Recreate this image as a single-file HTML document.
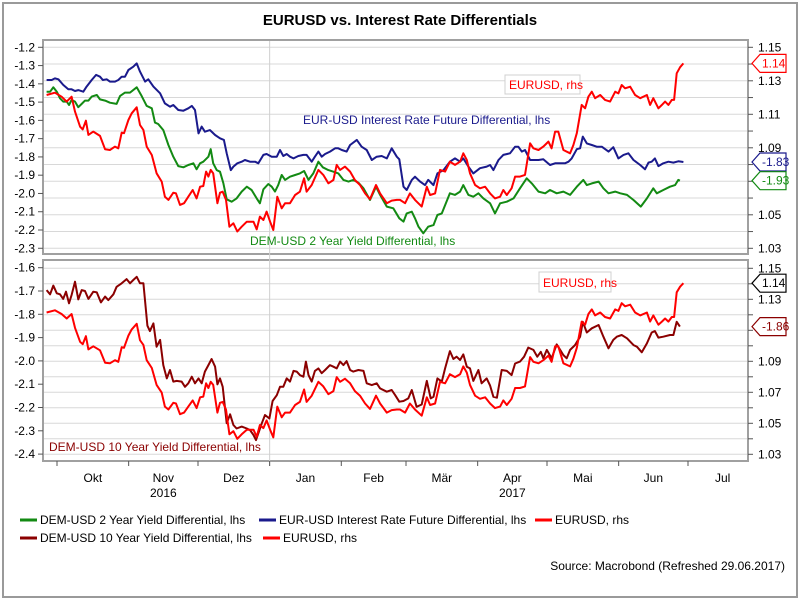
<!DOCTYPE html>
<html><head><meta charset="utf-8"><style>
body{margin:0;background:#fff;}
svg{display:block;font-family:"Liberation Sans",sans-serif;}
</style></head><body>
<svg id="chart" width="800" height="600" viewBox="0 0 800 600" xmlns="http://www.w3.org/2000/svg">
<rect x="0" y="0" width="800" height="600" fill="#fff"/>
<rect x="3" y="3" width="794" height="594" fill="none" stroke="#9a9a9a" stroke-width="2"/>
<text x="400" y="25" text-anchor="middle" font-size="15" font-weight="bold" fill="#000">EURUSD vs. Interest Rate Differentials</text>
<defs>
<clipPath id="clipTop"><rect x="43" y="40" width="705" height="214"/></clipPath>
<clipPath id="clipBot"><rect x="43" y="260" width="705" height="201"/></clipPath>
</defs>
<g id="grid"></g>
<g id="series"></g>
<g id="axes"></g>
<g id="annot">
<text x="303" y="124" font-size="12" fill="#1a1a8c">EUR-USD Interest Rate Future Differential, lhs</text>
<text x="250" y="245" font-size="12" fill="#138a13">DEM-USD 2 Year Yield Differential, lhs</text>
<rect x="505" y="75" width="75" height="19" fill="#fff" stroke="#d0d0d0"/>
<text x="509" y="89" font-size="12" fill="#f00">EURUSD, rhs</text>
<rect x="539" y="272" width="72" height="20" fill="#fff" stroke="#d0d0d0"/>
<text x="543" y="287" font-size="12" fill="#f00">EURUSD, rhs</text>
<text x="49" y="451" font-size="12" fill="#8b0000">DEM-USD 10 Year Yield Differential, lhs</text>
</g>
<g id="legend">
<line x1="20" y1="520" x2="37" y2="520" stroke="#138a13" stroke-width="3"/>
<text x="40" y="524" font-size="12">DEM-USD 2 Year Yield Differential, lhs</text>
<line x1="259" y1="520" x2="276" y2="520" stroke="#1a1a8c" stroke-width="3"/>
<text x="279" y="524" font-size="12">EUR-USD Interest Rate Future Differential, lhs</text>
<line x1="535" y1="520" x2="552" y2="520" stroke="#f00" stroke-width="3"/>
<text x="555" y="524" font-size="12">EURUSD, rhs</text>
<line x1="20" y1="538" x2="37" y2="538" stroke="#8b0000" stroke-width="3"/>
<text x="40" y="542" font-size="12">DEM-USD 10 Year Yield Differential, lhs</text>
<line x1="263" y1="538" x2="280" y2="538" stroke="#f00" stroke-width="3"/>
<text x="283" y="542" font-size="12">EURUSD, rhs</text>
</g>
<text x="785" y="570" text-anchor="end" font-size="12">Source: Macrobond (Refreshed 29.06.2017)</text>
</svg>
<script>
// days since 1 Oct 2016
const eurDays=[-4.5,-0.9,2.0,4.2,6.3,7.8,10.0,11.1,12.5,13.6,15.7,18.6,20.8,22.9,25.1,26.5,28.0,29.0,30.9,32.3,34.5,35.9,37.4,38.8,41.0,43.1,45.3,46.7,48.2,50.3,51.5,53.2,55.0,56.8,58.7,60.4,61.9,63.3,64.5,65.5,66.5,67.6,69.4,70.5,71.7,73.1,74.6,76.3,78.0,79.9,82.1,85.0,86.4,87.8,89.3,90.7,92.2,93.6,95.3,97.2,98.7,100.8,103.0,105.1,106.9,108.0,110.2,113.1,115.2,117.4,119.6,121.0,122.5,124.6,126.8,128.9,131.1,133.3,135.4,138.0,139.8,142.7,144.8,147.0,148.4,150.6,152.7,154.9,157.8,160.0,161.4,163.6,165.7,167.9,170.0,172.2,174.4,175.8,177.3,178.7,180.9,183.0,185.2,187.4,189.5,191.7,193.1,194.6,196.7,198.2,200.3,202.5,204.7,206.1,208.3,210.4,212.6,214.0,215.5,216.9,219.1,222.0,223.4,224.9,227.0,228.5,229.9,231.4,232.8,235.0,237.1,239.3,241.5,242.9,244.3,245.8,248.0,250.1,252.3,255.2,256.6,258.0,260.2,261.7,263.1,264.5,266.0,267.0,268.1,269.6,271.0];
const eurVals=[1.1215,1.1229,1.1205,1.1176,1.1205,1.1116,1.1026,1.1010,1.1062,1.0977,1.0997,1.0971,1.0891,1.0887,1.0907,1.0897,1.0991,1.0987,1.1066,1.1106,1.1142,1.1036,1.1006,1.0907,1.0857,1.0748,1.0698,1.0608,1.0589,1.0632,1.0628,1.0559,1.0569,1.0608,1.0648,1.0598,1.0668,1.0672,1.0758,1.0728,1.0768,1.0748,1.0569,1.0632,1.0638,1.0589,1.0429,1.0449,1.0400,1.0429,1.0459,1.0459,1.0413,1.0489,1.0469,1.0519,1.0459,1.0409,1.0608,1.0539,1.0569,1.0569,1.0618,1.0638,1.0718,1.0638,1.0678,1.0768,1.0738,1.0688,1.0708,1.0798,1.0768,1.0788,1.0758,1.0708,1.0678,1.0628,1.0593,1.0678,1.0628,1.0569,1.0585,1.0589,1.0589,1.0569,1.0628,1.0589,1.0549,1.0668,1.0618,1.0628,1.0768,1.0758,1.0817,1.0798,1.0817,1.0867,1.0827,1.0748,1.0678,1.0658,1.0668,1.0628,1.0598,1.0608,1.0648,1.0618,1.0658,1.0728,1.0728,1.0738,1.0927,1.0897,1.0887,1.0907,1.0937,1.0897,1.0997,1.0997,1.0887,1.0867,1.0917,1.0987,1.1156,1.1136,1.1205,1.1235,1.1196,1.1215,1.1186,1.1176,1.1235,1.1225,1.1275,1.1255,1.1265,1.1215,1.1196,1.1215,1.1156,1.1196,1.1136,1.1156,1.1176,1.1156,1.1186,1.1186,1.1345,1.1381,1.1404];
const futDays=[-4.5,-2.3,-0.9,0.6,2.7,4.9,6.3,7.8,9.2,11.4,12.8,15.0,16.9,18.6,19.8,21.5,22.9,25.1,26.5,28.0,29.4,30.9,33.0,34.5,35.9,38.1,39.5,41.7,44.6,46.7,48.9,50.3,52.5,54.7,56.8,58.3,59.7,61.2,62.6,64.0,66.2,68.4,70.5,72.2,73.4,75.2,76.3,78.0,79.9,81.3,83.5,85.7,87.1,89.3,90.7,92.9,95.1,96.5,97.9,99.4,100.8,102.3,104.4,106.6,108.0,110.2,111.6,113.1,114.5,116.0,118.1,120.3,121.7,123.2,125.3,126.8,129.7,131.8,134.0,136.2,138.3,140.5,142.7,144.8,147.0,148.1,149.9,151.3,153.5,154.9,157.1,159.2,160.6,162.9,164.6,167.2,170.0,172.2,174.4,175.8,178.0,180.1,183.0,185.9,187.4,188.8,191.0,193.1,196.0,198.2,199.6,201.1,202.5,204.7,208.3,210.4,213.3,215.5,217.7,219.8,221.3,222.7,224.9,226.3,227.5,229.2,231.4,233.5,235.7,238.6,240.7,242.9,245.1,247.2,249.4,252.3,254.4,255.9,257.3,258.7,260.2,262.3,264.5,266.7,268.8,271.0];
const futVals=[-1.379,-1.379,-1.370,-1.375,-1.406,-1.430,-1.430,-1.439,-1.434,-1.443,-1.415,-1.379,-1.351,-1.361,-1.379,-1.375,-1.388,-1.388,-1.379,-1.361,-1.361,-1.324,-1.306,-1.288,-1.333,-1.388,-1.375,-1.415,-1.452,-1.507,-1.525,-1.516,-1.543,-1.547,-1.534,-1.521,-1.543,-1.671,-1.634,-1.662,-1.653,-1.680,-1.698,-1.707,-1.780,-1.872,-1.853,-1.835,-1.826,-1.817,-1.826,-1.826,-1.835,-1.789,-1.784,-1.799,-1.799,-1.762,-1.795,-1.784,-1.799,-1.808,-1.795,-1.789,-1.789,-1.826,-1.799,-1.771,-1.799,-1.784,-1.771,-1.753,-1.753,-1.762,-1.771,-1.735,-1.707,-1.744,-1.762,-1.817,-1.799,-1.795,-1.808,-1.753,-1.799,-1.813,-1.963,-1.981,-1.926,-1.908,-1.935,-1.954,-1.926,-1.954,-1.890,-1.872,-1.826,-1.808,-1.826,-1.808,-1.853,-1.890,-1.862,-1.853,-1.844,-1.872,-1.817,-1.789,-1.780,-1.744,-1.744,-1.771,-1.762,-1.817,-1.817,-1.813,-1.844,-1.835,-1.835,-1.835,-1.826,-1.808,-1.758,-1.753,-1.689,-1.726,-1.735,-1.744,-1.744,-1.771,-1.747,-1.808,-1.789,-1.780,-1.817,-1.844,-1.868,-1.831,-1.826,-1.808,-1.850,-1.835,-1.826,-1.831,-1.824,-1.828];
const y2Days=[-4.5,-3.0,-1.6,-0.1,1.3,2.7,4.2,5.2,6.3,7.8,9.2,10.7,12.1,13.6,15.0,17.2,18.6,20.8,22.9,25.8,27.3,29.4,31.6,34.5,36.6,38.8,41.0,42.4,43.8,46.0,48.2,50.3,52.5,54.7,56.8,59.0,60.4,61.9,63.3,65.5,66.5,67.6,69.1,70.5,72.0,73.4,75.6,77.7,79.9,82.1,84.2,86.4,87.8,89.3,91.4,92.9,94.3,95.7,97.2,98.7,100.8,103.0,105.1,106.9,108.8,110.9,113.1,115.0,117.4,119.6,121.7,123.9,126.1,128.2,130.4,132.6,135.4,138.0,139.8,142.7,145.5,148.1,149.9,151.3,153.5,154.9,156.4,158.5,160.6,162.9,164.6,166.5,170.0,172.2,174.4,175.8,178.0,180.1,182.3,184.5,187.4,189.5,191.7,194.6,197.5,200.3,203.2,205.4,208.3,211.2,213.3,216.2,219.1,222.0,224.9,227.7,229.2,231.4,234.3,236.4,238.6,241.5,243.7,246.6,249.4,252.6,255.2,258.0,259.5,262.3,265.2,267.4,268.8,269.5];
const y2Vals=[-1.443,-1.443,-1.419,-1.443,-1.479,-1.497,-1.497,-1.516,-1.488,-1.497,-1.528,-1.510,-1.492,-1.492,-1.470,-1.461,-1.485,-1.492,-1.503,-1.510,-1.466,-1.448,-1.448,-1.419,-1.466,-1.521,-1.534,-1.612,-1.620,-1.653,-1.735,-1.799,-1.850,-1.857,-1.844,-1.835,-1.868,-1.835,-1.826,-1.799,-1.758,-1.835,-1.872,-1.881,-1.945,-2.032,-2.045,-2.027,-1.990,-1.963,-1.981,-2.027,-2.054,-1.977,-1.948,-1.963,-1.990,-1.954,-1.899,-1.926,-1.908,-1.899,-1.890,-1.877,-1.926,-1.890,-1.826,-1.857,-1.872,-1.881,-1.890,-1.926,-1.935,-1.926,-1.941,-1.972,-2.036,-1.963,-2.008,-2.072,-2.081,-2.136,-2.154,-2.109,-2.100,-2.136,-2.182,-2.218,-2.182,-2.173,-2.118,-2.109,-1.999,-2.008,-1.990,-1.954,-2.008,-2.018,-1.999,-2.027,-2.054,-2.109,-2.054,-2.045,-2.027,-1.972,-1.917,-1.945,-1.990,-1.999,-1.981,-1.999,-1.990,-2.008,-1.963,-1.926,-1.954,-1.945,-1.935,-1.972,-1.999,-1.990,-1.999,-2.008,-2.036,-2.072,-2.027,-1.972,-1.999,-1.981,-1.963,-1.954,-1.926,-1.930];
const y10Days=[-4.5,-3.0,-1.6,-0.1,1.3,2.7,3.9,5.2,6.3,7.8,9.2,10.7,12.1,13.6,15.7,17.2,19.0,20.8,22.2,24.4,25.8,28.0,30.1,31.6,33.0,34.5,35.9,37.4,39.1,40.2,41.7,43.1,44.6,46.0,47.5,48.9,50.3,51.8,53.9,55.4,56.8,58.3,59.7,61.2,62.6,64.0,65.5,66.9,68.4,69.4,70.5,71.7,73.4,74.9,76.3,77.7,79.9,82.1,83.5,85.0,86.1,87.1,88.6,90.0,91.9,93.3,95.1,96.5,97.9,99.4,100.8,102.3,103.7,105.1,106.6,107.7,108.8,110.2,111.6,113.1,114.5,116.0,118.1,119.6,121.0,122.5,123.9,125.3,126.8,128.2,130.4,132.6,134.0,136.2,138.3,139.8,142.7,144.8,146.3,148.1,149.9,152.0,153.5,155.6,157.8,160.0,161.7,162.9,164.6,166.5,167.9,170.0,171.5,172.9,174.4,175.8,177.3,178.7,180.1,182.3,183.7,185.9,187.4,188.8,190.3,192.4,194.6,196.7,198.2,200.3,202.1,203.9,206.1,207.8,209.3,210.4,211.9,214.0,216.2,217.7,219.1,220.5,222.0,224.1,226.3,227.5,229.2,231.4,234.3,236.4,238.6,240.7,242.2,244.3,246.6,249.4,250.9,253.0,255.2,257.3,258.7,260.2,262.3,265.2,266.7,268.1,269.5];
const y10Vals=[-1.696,-1.714,-1.677,-1.710,-1.714,-1.734,-1.703,-1.753,-1.717,-1.660,-1.736,-1.696,-1.700,-1.734,-1.703,-1.706,-1.749,-1.724,-1.739,-1.714,-1.682,-1.667,-1.649,-1.667,-1.653,-1.639,-1.667,-1.667,-1.849,-1.872,-1.839,-1.939,-1.910,-2.018,-2.075,-2.039,-2.089,-2.086,-2.089,-2.111,-2.096,-2.068,-2.096,-2.075,-2.096,-2.046,-2.018,-1.992,-2.025,-2.101,-2.075,-2.111,-2.268,-2.229,-2.275,-2.290,-2.282,-2.290,-2.297,-2.318,-2.340,-2.311,-2.268,-2.232,-2.247,-2.172,-2.147,-2.111,-2.111,-2.075,-2.089,-2.043,-2.046,-2.061,-2.068,-2.003,-2.061,-2.089,-2.043,-2.032,-2.053,-2.039,-2.018,-2.025,-2.032,-2.003,-2.018,-2.001,-2.039,-2.046,-2.039,-2.043,-2.096,-2.104,-2.096,-2.118,-2.132,-2.125,-2.147,-2.175,-2.172,-2.161,-2.125,-2.197,-2.187,-2.086,-2.161,-2.154,-2.075,-2.089,-2.032,-1.958,-1.992,-1.982,-1.996,-1.972,-2.025,-2.032,-2.086,-2.039,-2.096,-2.075,-2.106,-2.154,-2.158,-2.039,-2.043,-2.061,-2.011,-2.003,-1.982,-1.943,-1.953,-1.982,-1.961,-1.989,-1.953,-1.989,-1.929,-1.953,-1.975,-1.989,-1.953,-1.932,-1.896,-1.832,-1.878,-1.860,-1.846,-1.896,-1.946,-1.910,-1.896,-1.889,-1.903,-1.932,-1.939,-1.963,-1.925,-1.878,-1.872,-1.900,-1.896,-1.889,-1.889,-1.832,-1.853];
const topLeftTicks=[-1.2,-1.3,-1.4,-1.5,-1.6,-1.7,-1.8,-1.9,-2.0,-2.1,-2.2,-2.3];
const botLeftTicks=[-1.6,-1.7,-1.8,-1.9,-2.0,-2.1,-2.2,-2.3,-2.4];
const rightTicks=[1.15,1.14,1.13,1.12,1.11,1.10,1.09,1.08,1.07,1.06,1.05,1.04,1.03];
const monthNames=["Okt","Nov","Dez","Jan","Feb","Mär","Apr","Mai","Jun","Jul"];
const monthStartDays=[0,31,61,92,123,151,182,212,243,273];

const NS="http://www.w3.org/2000/svg";
const xDay=d=>57+d*(631/273);
const topL=v=>47.3+(-1.2-v)*182.7;
const topR=v=>47.3+(1.15-v)*1675;
const botL=v=>267.7+(-1.6-v)*233;
const botR=v=>268.3+(1.15-v)*1550;
function mk(tag,attrs,parent){const e=document.createElementNS(NS,tag);for(const k in attrs)e.setAttribute(k,attrs[k]);parent.appendChild(e);return e;}
const grid=document.getElementById('grid'),series=document.getElementById('series'),axes=document.getElementById('axes');

// panels
[[40,214,'top'],[260,201,'bottom']].forEach(p=>{
  const r=mk('rect',{x:43,y:p[0],width:705,height:p[1],fill:'#fff',stroke:'#a0a0a0','stroke-width':2},grid);
  
  
});
rightTicks.forEach(t=>{
  const g1=mk('line',{x1:44,x2:747,y1:topR(t),y2:topR(t),stroke:'#d8d8d8','stroke-width':1},grid);
  
  
  const g2=mk('line',{x1:44,x2:747,y1:botR(t),y2:botR(t),stroke:'#d8d8d8','stroke-width':1},grid);
  
  
});
const yb=mk('line',{x1:xDay(92),x2:xDay(92),y1:41,y2:466,stroke:'#d0d0d0','stroke-width':1},grid);



function line(days,vals,ys,color,clip,name){
  let d='';days.forEach((t,i)=>{d+=(i?'L':'M')+xDay(t).toFixed(1)+','+ys(vals[i]).toFixed(1);});
  const p=mk('path',{d:d,fill:'none',stroke:color,'stroke-width':2,'stroke-linejoin':'round','clip-path':'url(#'+clip+')'},series);
  
  
}
line(y2Days,y2Vals,topL,'#138a13','clipTop','line-2y-differential');
line(futDays,futVals,topL,'#1a1a8c','clipTop','line-future-differential');
line(eurDays,eurVals,topR,'#ff0000','clipTop','line-eurusd-top');
line(y10Days,y10Vals,botL,'#8b0000','clipBot','line-10y-differential');
line(eurDays,eurVals,botR,'#ff0000','clipBot','line-eurusd-bottom');

function txt(x,y,s,anchor,name,fill){const t=mk('text',{x:x,y:y,'font-size':12,'text-anchor':anchor,fill:fill||'#000'},axes);t.textContent=s;return t;}
topLeftTicks.forEach(t=>{mk('line',{x1:38,x2:43,y1:topL(t),y2:topL(t),stroke:'#555'},axes);txt(35,topL(t)+4,t.toFixed(1),'end','left-tick-label-top');});
botLeftTicks.forEach(t=>{mk('line',{x1:38,x2:43,y1:botL(t),y2:botL(t),stroke:'#555'},axes);txt(35,botL(t)+4,t.toFixed(1),'end','left-tick-label-bottom');});
rightTicks.forEach((t,i)=>{
  mk('line',{x1:748,x2:753,y1:topR(t),y2:topR(t),stroke:'#555'},axes);
  mk('line',{x1:748,x2:753,y1:botR(t),y2:botR(t),stroke:'#555'},axes);
  if(i%2===0){txt(758,topR(t)+4,t.toFixed(2),'start','right-tick-label-top');txt(758,botR(t)+4,t.toFixed(2),'start','right-tick-label-bottom');}
});
monthStartDays.forEach((d,i)=>{
  mk('line',{x1:xDay(d),x2:xDay(d),y1:461,y2:466,stroke:'#555'},axes);
  if(i<monthNames.length-1||true){
    const next=i<monthStartDays.length-1?monthStartDays[i+1]:d+30;
    txt(xDay((d+next)/2),482,monthNames[i],'middle','month-label');
  }
});
txt(xDay(46),497,'2016','middle','year-label-2016');
txt(xDay(197),497,'2017','middle','year-label-2017');

// end-value tags
function tag(y,label,color,name){
  const g=mk('g',{},axes);
  
  
  mk('path',{d:`M752,${y} L760,${y-9} L786,${y-9} L786,${y+9} L760,${y+9} Z`,fill:'#fff',stroke:color,'stroke-width':1.2},g);
  const t=mk('text',{x:762,y:y+4,'font-size':12,fill:color},g);t.textContent=label;
}
tag(topR(eurVals[eurVals.length-1]),'1.14','#f00','end-tag-eurusd-top');
tag(topL(futVals[futVals.length-1]),'-1.83','#1a1a8c','end-tag-future');
tag(topL(y2Vals[y2Vals.length-1]),'-1.93','#138a13','end-tag-2y');
tag(botR(eurVals[eurVals.length-1]),'1.14','#000','end-tag-eurusd-bottom');
tag(botL(y10Vals[y10Vals.length-1]),'-1.86','#8b0000','end-tag-10y');
</script>
</body></html>
